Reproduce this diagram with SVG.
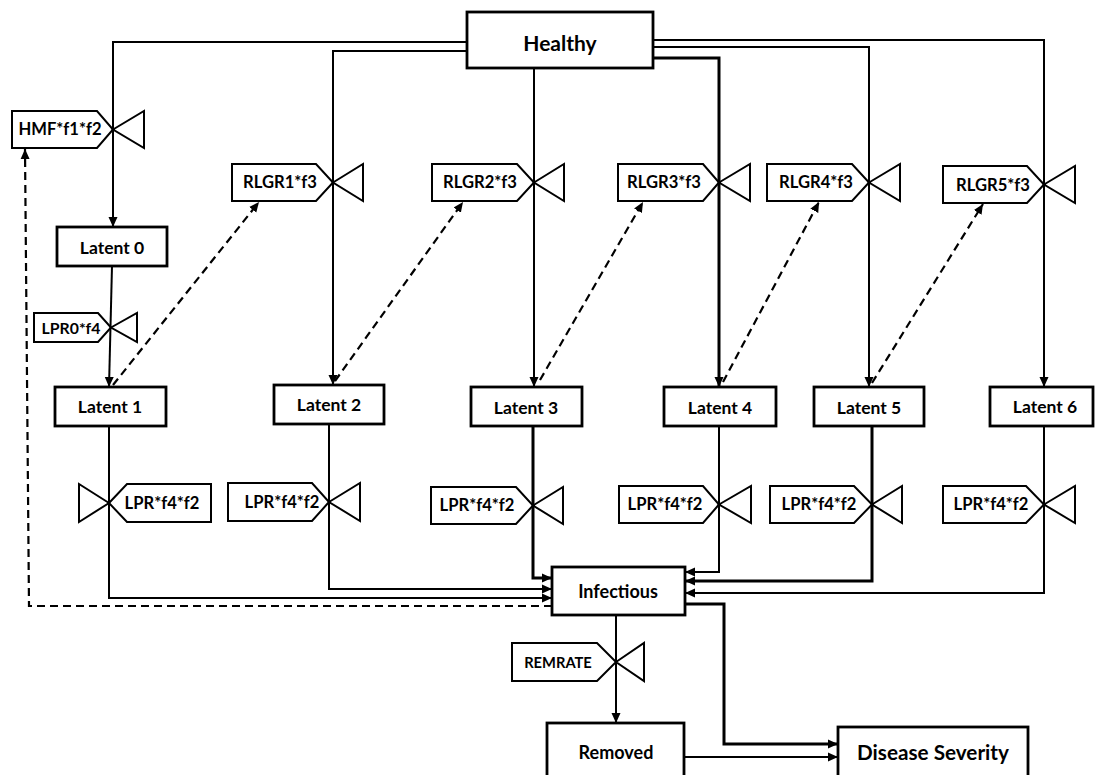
<svg xmlns="http://www.w3.org/2000/svg" width="1095" height="775" viewBox="0 0 1095 775">
<style>
.box{fill:#fff;stroke:#000;stroke-width:2.8}
.lbl{fill:#fff;stroke:#000;stroke-width:2}
.tri{fill:#fff;stroke:#000;stroke-width:2}
.ln{fill:none;stroke:#000;stroke-width:2}
.thk{fill:none;stroke:#000;stroke-width:3}
.dash{fill:none;stroke:#000;stroke-width:2.2;stroke-dasharray:8,5}
text{font-family:Lato,"Liberation Sans",sans-serif;font-weight:bold;fill:#000;text-anchor:middle;dominant-baseline:central}
.lat{font-size:17.5px}
.val{font-size:16.6px}
</style>
<defs>
<marker id="ar" markerUnits="userSpaceOnUse" markerWidth="10" markerHeight="10" viewBox="0 0 10 10" refX="10" refY="5" orient="auto">
<path d="M0,0.5 L10,5 L0,9.5 z" fill="#000"/>
</marker>
</defs>
<rect width="1095" height="775" fill="#fff"/>

<g id="connectors">
<path class="ln" d="M467,42 H113 V227" marker-end="url(#ar)"/>
<path class="ln" d="M467,51 H333 V385" marker-end="url(#ar)"/>
<path class="ln" d="M534,68 V387" marker-end="url(#ar)"/>
<path class="thk" d="M653,58 H719 V387" marker-end="url(#ar)"/>
<path class="ln" d="M653,47 H869 V387" marker-end="url(#ar)"/>
<path class="ln" d="M653,40 H1044 V387" marker-end="url(#ar)"/>
<path class="ln" d="M112,266 L109,387" marker-end="url(#ar)"/>
<path class="ln" d="M109,426 V598 H552" marker-end="url(#ar)"/>
<path class="ln" d="M329,424 V589 H552" marker-end="url(#ar)"/>
<path class="thk" d="M533,426 V578 H552" marker-end="url(#ar)"/>
<path class="ln" d="M719,426 V572 H685" marker-end="url(#ar)"/>
<path class="thk" d="M872,426 V581 H685" marker-end="url(#ar)"/>
<path class="ln" d="M1044,426 V593 H685" marker-end="url(#ar)"/>
<path class="dash" d="M552,606 H29 L25,149" marker-end="url(#ar)"/>
<path class="dash" d="M113,385 L259,202" marker-end="url(#ar)"/>
<path class="dash" d="M335,381 L463,202" marker-end="url(#ar)"/>
<path class="dash" d="M540,380 L643,202" marker-end="url(#ar)"/>
<path class="dash" d="M723,382 L819,202" marker-end="url(#ar)"/>
<path class="dash" d="M872,383 L983,204" marker-end="url(#ar)"/>
<path class="ln" d="M616,615 V723" marker-end="url(#ar)"/>
<path class="thk" d="M685,604 H724 V744 H838" marker-end="url(#ar)"/>
<path class="ln" d="M684,757 H838" marker-end="url(#ar)"/>
</g>

<g id="healthy"><rect class="box" x="467" y="12" width="186" height="56"/><text x="560" y="42" style="font-size:21px">Healthy</text></g>
<g id="latent0"><rect class="box" x="57" y="227" width="110" height="39"/><text class="lat" x="112" y="247">Latent 0</text></g>
<g id="latent1"><rect class="box" x="55" y="387" width="111" height="39"/><text class="lat" x="110" y="406">Latent 1</text></g>
<g id="latent2"><rect class="box" x="274" y="385" width="110" height="39"/><text class="lat" x="329" y="404">Latent 2</text></g>
<g id="latent3"><rect class="box" x="471" y="387" width="111" height="39"/><text class="lat" x="526" y="407">Latent 3</text></g>
<g id="latent4"><rect class="box" x="664" y="387" width="112" height="39"/><text class="lat" x="720" y="407">Latent 4</text></g>
<g id="latent5"><rect class="box" x="814" y="387" width="110" height="39"/><text class="lat" x="869" y="407">Latent 5</text></g>
<g id="latent6"><rect class="box" x="990" y="387" width="103" height="39"/><text class="lat" x="1045" y="406">Latent 6</text></g>
<g id="infectious"><rect class="box" x="552" y="567" width="133" height="48"/><text x="618" y="591" style="font-size:18px">Infectious</text></g>
<g id="removed"><rect class="box" x="547" y="723" width="137" height="60"/><text x="616" y="752" style="font-size:18px">Removed</text></g>
<g id="severity"><rect class="box" x="838" y="727" width="190" height="56"/><text x="933" y="752" style="font-size:20.7px">Disease Severity</text></g>

<g id="v-hmf"><polygon class="lbl" points="12,111 97,111 113,129.5 97,148 12,148"/><polygon class="tri" points="113,129.5 144,111 144,148"/><text class="val" x="60" y="129">HMF*f1*f2</text></g>
<g id="v-rlgr1"><polygon class="lbl" points="232,164 316,164 333,182.5 316,201 232,201"/><polygon class="tri" points="333,182.5 363,164 363,201"/><text class="val" x="280" y="182">RLGR1*f3</text></g>
<g id="v-rlgr2"><polygon class="lbl" points="432,164 517,164 534,182.5 517,201 432,201"/><polygon class="tri" points="534,182.5 564,164 564,201"/><text class="val" x="480" y="182">RLGR2*f3</text></g>
<g id="v-rlgr3"><polygon class="lbl" points="618,164 703,164 719,182.5 703,201 618,201"/><polygon class="tri" points="719,182.5 750,164 750,201"/><text class="val" x="664" y="182">RLGR3*f3</text></g>
<g id="v-rlgr4"><polygon class="lbl" points="767,164 852,164 869,182.5 852,201 767,201"/><polygon class="tri" points="869,182.5 900,164 900,201"/><text class="val" x="816" y="182">RLGR4*f3</text></g>
<g id="v-rlgr5"><polygon class="lbl" points="943,166 1027,166 1044,184.5 1027,203 943,203"/><polygon class="tri" points="1044,184.5 1075,166 1075,203"/><text class="val" x="993" y="185">RLGR5*f3</text></g>
<g id="v-lpr0"><polygon class="lbl" points="34,313 98,313 111,327.5 98,342 34,342"/><polygon class="tri" points="111,327.5 137,313 137,342"/><text x="71" y="327" style="font-size:15.8px">LPR0*f4</text></g>
<g id="v-lpr1"><polygon class="lbl" points="109,503 127,484 211,484 211,522 127,522"/><polygon class="tri" points="109,503 79,484 79,522"/><text class="val" x="162" y="503">LPR*f4*f2</text></g>
<g id="v-lpr2"><polygon class="lbl" points="228,483 312,483 329,502 312,521 228,521"/><polygon class="tri" points="329,502 360,483 360,521"/><text class="val" x="282" y="502">LPR*f4*f2</text></g>
<g id="v-lpr3"><polygon class="lbl" points="431,487 516,487 533,505.5 516,524 431,524"/><polygon class="tri" points="533,505.5 563,487 563,524"/><text class="val" x="477" y="505">LPR*f4*f2</text></g>
<g id="v-lpr4"><polygon class="lbl" points="619,486 703,486 719,504.5 703,523 619,523"/><polygon class="tri" points="719,504.5 751,486 751,523"/><text class="val" x="665" y="504">LPR*f4*f2</text></g>
<g id="v-lpr5"><polygon class="lbl" points="770,486 854,486 872,504.5 854,523 770,523"/><polygon class="tri" points="872,504.5 902,486 902,523"/><text class="val" x="819" y="504">LPR*f4*f2</text></g>
<g id="v-lpr6"><polygon class="lbl" points="943,486 1026,486 1044,504.5 1026,523 943,523"/><polygon class="tri" points="1044,504.5 1075,486 1075,523"/><text class="val" x="991" y="504">LPR*f4*f2</text></g>
<g id="v-rem"><polygon class="lbl" points="512,643 597,643 616,662 597,681 512,681"/><polygon class="tri" points="616,662 644,643 644,681"/><text x="558" y="662" style="font-size:14.7px">REMRATE</text></g>
</svg>
